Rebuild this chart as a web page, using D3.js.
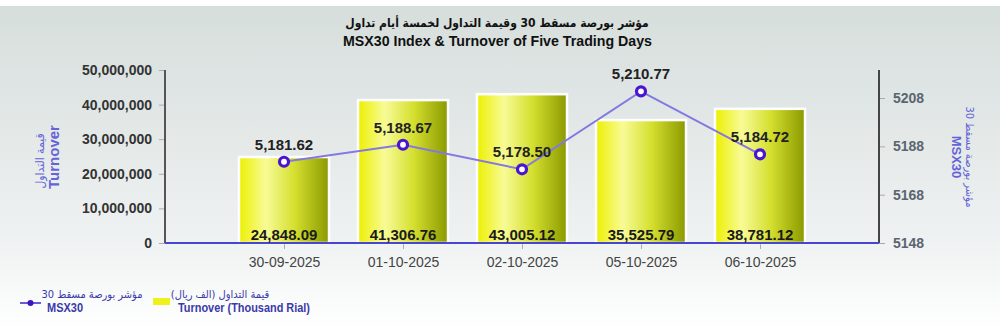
<!DOCTYPE html>
<html><head><meta charset="utf-8">
<script src="https://cdn.jsdelivr.net/npm/d3@7"></script>
<style>
html,body{margin:0;padding:0;background:#fff;}
svg{display:block;font-family:"Liberation Sans",Arial,sans-serif;}
</style></head>
<body>
<svg id="chart" width="1000" height="330"></svg>
<script>
const categories = ["30-09-2025","01-10-2025","02-10-2025","05-10-2025","06-10-2025"];
const turnover = [24848.09, 41306.76, 43005.12, 35525.79, 38781.12]; // thousand rial
const msx30 = [5181.62, 5188.67, 5178.50, 5210.77, 5184.72];
const leftTicks = [0, 10000000, 20000000, 30000000, 40000000, 50000000];
const rightTicks = [5148, 5168, 5188, 5208];
const titleAr = "مؤشر بورصة مسقط 30 وقيمة التداول لخمسة أيام تداول";
const titleEn = "MSX30 Index & Turnover of Five Trading Days";

const svg = d3.select("#chart");
const L = 165, R = 879, T = 70, B = 243;

const defs = svg.append("defs");
const bg = defs.append("linearGradient").attr("id","bg").attr("x1",0).attr("y1",0).attr("x2",0).attr("y2",1);
bg.append("stop").attr("offset","0").attr("stop-color","#d6dedc");
bg.append("stop").attr("offset","0.7").attr("stop-color","#eef1f1");
bg.append("stop").attr("offset","1").attr("stop-color","#ffffff");
const bg2 = defs.append("linearGradient").attr("id","bar").attr("x1",0).attr("y1",0).attr("x2",1).attr("y2",0);
bg2.append("stop").attr("offset","0").attr("stop-color","#ecf000");
bg2.append("stop").attr("offset","0.3").attr("stop-color","#f8fb96");
bg2.append("stop").attr("offset","0.62").attr("stop-color","#d4df2e");
bg2.append("stop").attr("offset","1").attr("stop-color","#8a9900");

svg.append("rect").attr("x",0).attr("y",6).attr("width",1000).attr("height",324).attr("fill","url(#bg)");

// titles
svg.append("text").attr("x",497).attr("y",27).attr("text-anchor","middle").attr("direction","rtl")
  .attr("font-family","'DejaVu Sans Condensed','DejaVu Sans',sans-serif").attr("font-weight","bold")
  .attr("font-size",12).attr("fill","#111").text(titleAr);
svg.append("text").attr("x",343).attr("y",46)
  .attr("textLength",309).attr("lengthAdjust","spacingAndGlyphs")
  .attr("font-weight","bold")
  .attr("font-size",15).attr("fill","#111").text(titleEn);

const x = d3.scalePoint().domain(categories).range([L, R]).padding(1);
const yL = d3.scaleLinear().domain([0, 50000000]).range([B, T]);
const yR = d3.scaleLinear().domain([5148, 5219.6]).range([B, T]);
const bw = 90;

// left axis
const gl = svg.append("g").attr("transform",`translate(${L},0)`)
  .call(d3.axisLeft(yL).tickValues(leftTicks).tickFormat(d3.format(",")).tickSize(6).tickPadding(7));
gl.select(".domain").remove();
gl.selectAll(".tick line").attr("stroke","#aaa");
gl.selectAll(".tick text").attr("font-size",14).attr("font-weight","bold").attr("fill","#333")
  .attr("font-family","'Liberation Sans',Arial,sans-serif");
svg.append("line").attr("x1",L).attr("x2",L).attr("y1",T).attr("y2",B).attr("stroke","#555").attr("stroke-width",2);

// right axis
const gr = svg.append("g").attr("transform",`translate(${R},0)`)
  .call(d3.axisRight(yR).tickValues(rightTicks).tickFormat(d3.format("d")).tickSize(6).tickPadding(8));
gr.select(".domain").remove();
gr.selectAll(".tick line").attr("stroke","#aaa");
gr.selectAll(".tick text").attr("font-size",14).attr("font-weight","bold").attr("fill","#5a6570")
  .attr("font-family","'Liberation Sans',Arial,sans-serif");
svg.append("line").attr("x1",R).attr("x2",R).attr("y1",T).attr("y2",B).attr("stroke","#444").attr("stroke-width",2);

// x axis
const gx = svg.append("g").attr("transform",`translate(0,${B})`)
  .call(d3.axisBottom(x).tickSize(6).tickPadding(8));
gx.select(".domain").remove();
gx.selectAll(".tick line").attr("stroke","#aaa");
gx.selectAll(".tick text").attr("font-size",14).attr("fill","#444")
  .attr("font-family","'Liberation Sans',Arial,sans-serif");

// bars
svg.append("g").selectAll("rect").data(categories).join("rect")
  .attr("x", (d)=>x(d)-bw/2).attr("width", bw)
  .attr("y", (d,i)=>yL(turnover[i]*1000)).attr("height",(d,i)=>B-yL(turnover[i]*1000))
  .attr("fill","url(#bar)").attr("stroke","#ffffff").attr("stroke-width",2.5);

svg.append("line").attr("x1",L).attr("x2",R).attr("y1",B).attr("y2",B).attr("stroke","#4646d2").attr("stroke-width",2);

// bar labels
svg.append("g").selectAll("text").data(categories).join("text")
  .attr("x", d=>x(d)).attr("y", B-3).attr("text-anchor","middle")
  .attr("font-size",15).attr("font-weight","bold").attr("fill","#1a1a1a")
  .text((d,i)=>d3.format(",.2f")(turnover[i]));

// line
const line = d3.line().x((d,i)=>x(categories[i])).y(d=>yR(d));
svg.append("path").datum(msx30).attr("d",line).attr("fill","none").attr("stroke","#8478e2").attr("stroke-width",2);
svg.append("g").selectAll("circle").data(msx30).join("circle")
  .attr("cx",(d,i)=>x(categories[i])).attr("cy",d=>yR(d)).attr("r",4.5)
  .attr("fill","#ffffff").attr("stroke","#4a14d0").attr("stroke-width",3.2);
svg.append("g").selectAll("text").data(msx30).join("text")
  .attr("x",(d,i)=>x(categories[i])).attr("y",d=>yR(d)-12).attr("text-anchor","middle")
  .attr("font-size",15).attr("font-weight","bold").attr("fill","#222")
  .text(d=>d3.format(",.2f")(d));

// axis titles
const axisCol = "#6464d8";
svg.append("text").attr("transform","translate(59,157) rotate(-90)").attr("text-anchor","middle")
  .attr("font-size",15).attr("font-weight","bold").attr("fill",axisCol).text("Turnover");
svg.append("text").attr("transform","translate(44,161) rotate(-90)").attr("text-anchor","middle").attr("direction","rtl")
  .attr("font-family","'DejaVu Sans Condensed','DejaVu Sans',sans-serif")
  .attr("font-size",12).attr("fill",axisCol).text("قيمة التداول");
svg.append("text").attr("transform","translate(952,157) rotate(90)").attr("text-anchor","middle")
  .attr("font-size",13).attr("font-weight","bold").attr("fill",axisCol).text("MSX30");
svg.append("text").attr("transform","translate(966,157) rotate(90)").attr("text-anchor","middle").attr("direction","rtl")
  .attr("font-family","'DejaVu Sans Condensed','DejaVu Sans',sans-serif")
  .attr("font-size",11).attr("fill",axisCol).text("مؤشر بورصة مسقط 30");

// legend
const legCol = "#3a3aa8";
svg.append("line").attr("x1",20).attr("x2",41).attr("y1",303).attr("y2",303).attr("stroke","#6a5ad8").attr("stroke-width",2);
svg.append("circle").attr("cx",30.5).attr("cy",303).attr("r",3).attr("fill","#3a16c0");
svg.append("text").attr("x",92).attr("y",298).attr("text-anchor","middle").attr("direction","rtl")
  .attr("font-family","'DejaVu Sans Condensed','DejaVu Sans',sans-serif")
  .attr("font-size",11).attr("fill",legCol).text("مؤشر بورصة مسقط 30");
svg.append("text").attr("x",47).attr("y",312).attr("font-size",13).attr("font-weight","bold").attr("fill",legCol)
  .attr("textLength",36).attr("lengthAdjust","spacingAndGlyphs").text("MSX30");
svg.append("rect").attr("x",153).attr("y",298).attr("width",17).attr("height",7).attr("fill","#eef21a");
svg.append("text").attr("x",220).attr("y",298).attr("text-anchor","middle").attr("direction","rtl")
  .attr("font-family","'DejaVu Sans Condensed','DejaVu Sans',sans-serif")
  .attr("font-size",11).attr("fill",legCol).text("قيمة التداول (الف ريال)");
svg.append("text").attr("x",178).attr("y",312).attr("font-size",13).attr("font-weight","bold").attr("fill",legCol)
  .attr("textLength",132).attr("lengthAdjust","spacingAndGlyphs").text("Turnover (Thousand Rial)");
</script>
</body></html>
